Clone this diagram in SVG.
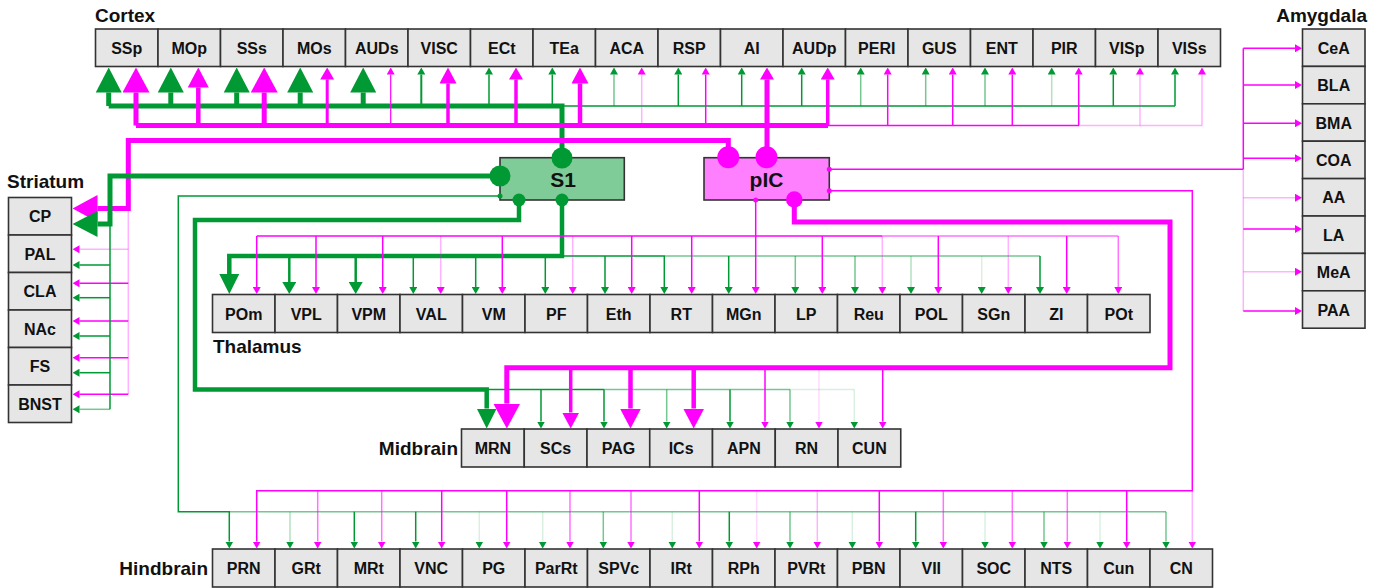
<svg xmlns="http://www.w3.org/2000/svg" width="1382" height="588" viewBox="0 0 1382 588">
<style>
.bx{fill:#e6e6e6;stroke:#333;stroke-width:1.6}
.lb{font-family:"Liberation Sans",Arial,sans-serif;font-weight:bold;font-size:16px;fill:#111;text-anchor:middle}
.gl{font-family:"Liberation Sans",Arial,sans-serif;font-weight:bold;font-size:19px;fill:#111}
.big{font-size:21px}
.g{stroke:#009933;fill:none}
.m{stroke:#ff00ff;fill:none}
.t{stroke-width:1.5}.w2{stroke-width:2.5}.w3{stroke-width:3.5}.w4{stroke-width:4.5}.w5{stroke-width:5}
.f1{stroke-opacity:.55}.f2{stroke-opacity:.3}.f3{stroke-opacity:.15}
.gS{marker-end:url(#gS)}.gM{marker-end:url(#gM)}.gL{marker-end:url(#gL)}.gX{marker-end:url(#gX)}
.mS{marker-end:url(#mS)}.mM{marker-end:url(#mM)}.mL2{marker-end:url(#mL2)}.mL{marker-end:url(#mL)}.mX{marker-end:url(#mX)}
.gd{fill:#009933}.md{fill:#ff00ff}
</style>
<defs>
<marker id="gS" viewBox="0 -4 7 8" refX="0" refY="0" markerWidth="7" markerHeight="8" markerUnits="userSpaceOnUse" orient="auto"><path d="M0,-4L7,0L0,4z" fill="#009933"/></marker>
<marker id="gM" viewBox="0 -7 12 14" refX="0" refY="0" markerWidth="12" markerHeight="14" markerUnits="userSpaceOnUse" orient="auto"><path d="M0,-7L12,0L0,7z" fill="#009933"/></marker>
<marker id="gL" viewBox="0 -10 20 20" refX="0" refY="0" markerWidth="20" markerHeight="20" markerUnits="userSpaceOnUse" orient="auto"><path d="M0,-10L20,0L0,10z" fill="#009933"/></marker>
<marker id="gX" viewBox="0 -13 25 26" refX="0" refY="0" markerWidth="25" markerHeight="26" markerUnits="userSpaceOnUse" orient="auto"><path d="M0,-13L25,0L0,13z" fill="#009933"/></marker>
<marker id="mS" viewBox="0 -4 7 8" refX="0" refY="0" markerWidth="7" markerHeight="8" markerUnits="userSpaceOnUse" orient="auto"><path d="M0,-4L7,0L0,4z" fill="#ff00ff"/></marker>
<marker id="mM" viewBox="0 -7 12 14" refX="0" refY="0" markerWidth="12" markerHeight="14" markerUnits="userSpaceOnUse" orient="auto"><path d="M0,-7L12,0L0,7z" fill="#ff00ff"/></marker>
<marker id="mL2" viewBox="0 -8.5 16 17" refX="0" refY="0" markerWidth="16" markerHeight="17" markerUnits="userSpaceOnUse" orient="auto"><path d="M0,-8.5L16,0L0,8.5z" fill="#ff00ff"/></marker>
<marker id="mL" viewBox="0 -10.5 20 21" refX="0" refY="0" markerWidth="20" markerHeight="21" markerUnits="userSpaceOnUse" orient="auto"><path d="M0,-10.5L20,0L0,10.5z" fill="#ff00ff"/></marker>
<marker id="mX" viewBox="0 -13.5 25 27" refX="0" refY="0" markerWidth="25" markerHeight="27" markerUnits="userSpaceOnUse" orient="auto"><path d="M0,-13.5L25,0L0,13.5z" fill="#ff00ff"/></marker>
</defs>
<rect width="1382" height="588" fill="#fff"/>

<g id="labels">
<text class="gl" x="95" y="22">Cortex</text>
<text class="gl" x="1367" y="22" text-anchor="end">Amygdala</text>
<text class="gl" x="7" y="188">Striatum</text>
<text class="gl" x="213" y="353">Thalamus</text>
<text class="gl" x="458" y="455" text-anchor="end">Midbrain</text>
<text class="gl" x="208" y="575" text-anchor="end">Hindbrain</text>
</g>

<g id="cortex">
<g id="n-SSp"><rect class="bx" x="95.5" y="29" width="62.5" height="37.5"/><text class="lb" x="126.75" y="53.5">SSp</text></g>
<g id="n-MOp"><rect class="bx" x="158" y="29" width="62.5" height="37.5"/><text class="lb" x="189.25" y="53.5">MOp</text></g>
<g id="n-SSs"><rect class="bx" x="220.5" y="29" width="62.5" height="37.5"/><text class="lb" x="251.75" y="53.5">SSs</text></g>
<g id="n-MOs"><rect class="bx" x="283" y="29" width="62.5" height="37.5"/><text class="lb" x="314.25" y="53.5">MOs</text></g>
<g id="n-AUDs"><rect class="bx" x="345.5" y="29" width="62.5" height="37.5"/><text class="lb" x="376.75" y="53.5">AUDs</text></g>
<g id="n-VISC"><rect class="bx" x="408" y="29" width="62.5" height="37.5"/><text class="lb" x="439.25" y="53.5">VISC</text></g>
<g id="n-ECt"><rect class="bx" x="470.5" y="29" width="62.5" height="37.5"/><text class="lb" x="501.75" y="53.5">ECt</text></g>
<g id="n-TEa"><rect class="bx" x="533" y="29" width="62.5" height="37.5"/><text class="lb" x="564.25" y="53.5">TEa</text></g>
<g id="n-ACA"><rect class="bx" x="595.5" y="29" width="62.5" height="37.5"/><text class="lb" x="626.75" y="53.5">ACA</text></g>
<g id="n-RSP"><rect class="bx" x="658" y="29" width="62.5" height="37.5"/><text class="lb" x="689.25" y="53.5">RSP</text></g>
<g id="n-AI"><rect class="bx" x="720.5" y="29" width="62.5" height="37.5"/><text class="lb" x="751.75" y="53.5">AI</text></g>
<g id="n-AUDp"><rect class="bx" x="783" y="29" width="62.5" height="37.5"/><text class="lb" x="814.25" y="53.5">AUDp</text></g>
<g id="n-PERI"><rect class="bx" x="845.5" y="29" width="62.5" height="37.5"/><text class="lb" x="876.75" y="53.5">PERI</text></g>
<g id="n-GUS"><rect class="bx" x="908" y="29" width="62.5" height="37.5"/><text class="lb" x="939.25" y="53.5">GUS</text></g>
<g id="n-ENT"><rect class="bx" x="970.5" y="29" width="62.5" height="37.5"/><text class="lb" x="1001.75" y="53.5">ENT</text></g>
<g id="n-PIR"><rect class="bx" x="1033" y="29" width="62.5" height="37.5"/><text class="lb" x="1064.25" y="53.5">PIR</text></g>
<g id="n-VISp"><rect class="bx" x="1095.5" y="29" width="62.5" height="37.5"/><text class="lb" x="1126.75" y="53.5">VISp</text></g>
<g id="n-VISs"><rect class="bx" x="1158" y="29" width="62.5" height="37.5"/><text class="lb" x="1189.25" y="53.5">VISs</text></g>
</g>

<g id="amygdala">
<g id="n-CeA"><rect class="bx" x="1302.5" y="29" width="62.5" height="37.4"/><text class="lb" x="1333.75" y="53.7">CeA</text></g>
<g id="n-BLA"><rect class="bx" x="1302.5" y="66.4" width="62.5" height="37.4"/><text class="lb" x="1333.75" y="91.1">BLA</text></g>
<g id="n-BMA"><rect class="bx" x="1302.5" y="103.8" width="62.5" height="37.4"/><text class="lb" x="1333.75" y="128.5">BMA</text></g>
<g id="n-COA"><rect class="bx" x="1302.5" y="141.2" width="62.5" height="37.4"/><text class="lb" x="1333.75" y="165.9">COA</text></g>
<g id="n-AA"><rect class="bx" x="1302.5" y="178.6" width="62.5" height="37.4"/><text class="lb" x="1333.75" y="203.3">AA</text></g>
<g id="n-LA"><rect class="bx" x="1302.5" y="216" width="62.5" height="37.4"/><text class="lb" x="1333.75" y="240.7">LA</text></g>
<g id="n-MeA"><rect class="bx" x="1302.5" y="253.4" width="62.5" height="37.4"/><text class="lb" x="1333.75" y="278.1">MeA</text></g>
<g id="n-PAA"><rect class="bx" x="1302.5" y="290.8" width="62.5" height="37.4"/><text class="lb" x="1333.75" y="315.5">PAA</text></g>
</g>

<g id="striatum">
<g id="n-CP"><rect class="bx" x="8.5" y="197.5" width="63" height="37.5"/><text class="lb" x="40" y="222">CP</text></g>
<g id="n-PAL"><rect class="bx" x="8.5" y="235" width="63" height="37.5"/><text class="lb" x="40" y="259.5">PAL</text></g>
<g id="n-CLA"><rect class="bx" x="8.5" y="272.5" width="63" height="37.5"/><text class="lb" x="40" y="297">CLA</text></g>
<g id="n-NAc"><rect class="bx" x="8.5" y="310" width="63" height="37.5"/><text class="lb" x="40" y="334.5">NAc</text></g>
<g id="n-FS"><rect class="bx" x="8.5" y="347.5" width="63" height="37.5"/><text class="lb" x="40" y="372">FS</text></g>
<g id="n-BNST"><rect class="bx" x="8.5" y="385" width="63" height="37.5"/><text class="lb" x="40" y="409.5">BNST</text></g>
</g>

<g id="thalamus">
<g id="n-POm"><rect class="bx" x="212.5" y="294.5" width="62.5" height="38"/><text class="lb" x="243.75" y="319.5">POm</text></g>
<g id="n-VPL"><rect class="bx" x="275" y="294.5" width="62.5" height="38"/><text class="lb" x="306.25" y="319.5">VPL</text></g>
<g id="n-VPM"><rect class="bx" x="337.5" y="294.5" width="62.5" height="38"/><text class="lb" x="368.75" y="319.5">VPM</text></g>
<g id="n-VAL"><rect class="bx" x="400" y="294.5" width="62.5" height="38"/><text class="lb" x="431.25" y="319.5">VAL</text></g>
<g id="n-VM"><rect class="bx" x="462.5" y="294.5" width="62.5" height="38"/><text class="lb" x="493.75" y="319.5">VM</text></g>
<g id="n-PF"><rect class="bx" x="525" y="294.5" width="62.5" height="38"/><text class="lb" x="556.25" y="319.5">PF</text></g>
<g id="n-Eth"><rect class="bx" x="587.5" y="294.5" width="62.5" height="38"/><text class="lb" x="618.75" y="319.5">Eth</text></g>
<g id="n-RT"><rect class="bx" x="650" y="294.5" width="62.5" height="38"/><text class="lb" x="681.25" y="319.5">RT</text></g>
<g id="n-MGn"><rect class="bx" x="712.5" y="294.5" width="62.5" height="38"/><text class="lb" x="743.75" y="319.5">MGn</text></g>
<g id="n-LP"><rect class="bx" x="775" y="294.5" width="62.5" height="38"/><text class="lb" x="806.25" y="319.5">LP</text></g>
<g id="n-Reu"><rect class="bx" x="837.5" y="294.5" width="62.5" height="38"/><text class="lb" x="868.75" y="319.5">Reu</text></g>
<g id="n-POL"><rect class="bx" x="900" y="294.5" width="62.5" height="38"/><text class="lb" x="931.25" y="319.5">POL</text></g>
<g id="n-SGn"><rect class="bx" x="962.5" y="294.5" width="62.5" height="38"/><text class="lb" x="993.75" y="319.5">SGn</text></g>
<g id="n-ZI"><rect class="bx" x="1025" y="294.5" width="62.5" height="38"/><text class="lb" x="1056.25" y="319.5">ZI</text></g>
<g id="n-POt"><rect class="bx" x="1087.5" y="294.5" width="62.5" height="38"/><text class="lb" x="1118.75" y="319.5">POt</text></g>
</g>

<g id="midbrain">
<g id="n-MRN"><rect class="bx" x="461.5" y="429" width="62.75" height="38"/><text class="lb" x="492.9" y="454">MRN</text></g>
<g id="n-SCs"><rect class="bx" x="524.25" y="429" width="62.75" height="38"/><text class="lb" x="555.6" y="454">SCs</text></g>
<g id="n-PAG"><rect class="bx" x="587" y="429" width="62.75" height="38"/><text class="lb" x="618.4" y="454">PAG</text></g>
<g id="n-ICs"><rect class="bx" x="649.75" y="429" width="62.75" height="38"/><text class="lb" x="681.1" y="454">ICs</text></g>
<g id="n-APN"><rect class="bx" x="712.5" y="429" width="62.75" height="38"/><text class="lb" x="743.9" y="454">APN</text></g>
<g id="n-RN"><rect class="bx" x="775.25" y="429" width="62.75" height="38"/><text class="lb" x="806.6" y="454">RN</text></g>
<g id="n-CUN"><rect class="bx" x="838" y="429" width="62.75" height="38"/><text class="lb" x="869.4" y="454">CUN</text></g>
</g>

<g id="hindbrain">
<g id="n-PRN"><rect class="bx" x="212.5" y="549" width="62.5" height="38"/><text class="lb" x="243.75" y="574">PRN</text></g>
<g id="n-GRt"><rect class="bx" x="275" y="549" width="62.5" height="38"/><text class="lb" x="306.25" y="574">GRt</text></g>
<g id="n-MRt"><rect class="bx" x="337.5" y="549" width="62.5" height="38"/><text class="lb" x="368.75" y="574">MRt</text></g>
<g id="n-VNC"><rect class="bx" x="400" y="549" width="62.5" height="38"/><text class="lb" x="431.25" y="574">VNC</text></g>
<g id="n-PG"><rect class="bx" x="462.5" y="549" width="62.5" height="38"/><text class="lb" x="493.75" y="574">PG</text></g>
<g id="n-ParRt"><rect class="bx" x="525" y="549" width="62.5" height="38"/><text class="lb" x="556.25" y="574">ParRt</text></g>
<g id="n-SPVc"><rect class="bx" x="587.5" y="549" width="62.5" height="38"/><text class="lb" x="618.75" y="574">SPVc</text></g>
<g id="n-IRt"><rect class="bx" x="650" y="549" width="62.5" height="38"/><text class="lb" x="681.25" y="574">IRt</text></g>
<g id="n-RPh"><rect class="bx" x="712.5" y="549" width="62.5" height="38"/><text class="lb" x="743.75" y="574">RPh</text></g>
<g id="n-PVRt"><rect class="bx" x="775" y="549" width="62.5" height="38"/><text class="lb" x="806.25" y="574">PVRt</text></g>
<g id="n-PBN"><rect class="bx" x="837.5" y="549" width="62.5" height="38"/><text class="lb" x="868.75" y="574">PBN</text></g>
<g id="n-VII"><rect class="bx" x="900" y="549" width="62.5" height="38"/><text class="lb" x="931.25" y="574">VII</text></g>
<g id="n-SOC"><rect class="bx" x="962.5" y="549" width="62.5" height="38"/><text class="lb" x="993.75" y="574">SOC</text></g>
<g id="n-NTS"><rect class="bx" x="1025" y="549" width="62.5" height="38"/><text class="lb" x="1056.25" y="574">NTS</text></g>
<g id="n-Cun"><rect class="bx" x="1087.5" y="549" width="62.5" height="38"/><text class="lb" x="1118.75" y="574">Cun</text></g>
<g id="n-CN"><rect class="bx" x="1150" y="549" width="62.5" height="38"/><text class="lb" x="1181.25" y="574">CN</text></g>
</g>

<g id="n-S1"><rect x="500" y="157.7" width="124.3" height="42.3" fill="#80cc99" stroke="#333" stroke-width="1.6"/><text class="lb big" x="563" y="186.5">S1</text></g>
<g id="n-pIC"><rect x="704" y="157.7" width="125.3" height="42.3" fill="#ff80ff" stroke="#333" stroke-width="1.6"/><text class="lb big" x="766.5" y="186.5">pIC</text></g>

<g id="connectors">
<!-- S1 -> cortex (green) -->
<path class="g w5" d="M562,158V106H108.7"/>
<path class="g t" d="M562,106H1175"/>
<path class="g w5 gX" d="M108.7,106V92.5"/>
<path class="g w5 gX" d="M170.8,106V92.5"/>
<path class="g w5 gX" d="M236.7,106V92.5"/>
<path class="g w5 gX" d="M300.2,106V92.5"/>
<path class="g w5 gX" d="M363.2,106V92.5"/>
<path class="g t gS" d="M421.3,106V74.5" style="stroke-width:2"/>
<path class="g t gS" d="M489,106V74.5"/>
<path class="g t gS" d="M552.3,106V74.5"/>
<path class="g t gS f1" d="M614,106V74.5"/>
<path class="g t gS" d="M678.3,106V74.5"/>
<path class="g t gS" d="M741.7,106V74.5"/>
<path class="g t gS" d="M801.7,106V74.5"/>
<path class="g t gS f1" d="M860.7,106V74.5"/>
<path class="g t gS f1" d="M925.7,106V74.5"/>
<path class="g t gS f1" d="M985,106V74.5"/>
<path class="g t gS f2" d="M1051.7,106V74.5"/>
<path class="g t gS" d="M1113.3,106V74.5"/>
<path class="g t gS" d="M1175,106V74.5"/>

<!-- pIC -> cortex (magenta) -->
<path class="m w5" d="M136,125.5H828"/>
<path class="m t" d="M828,125.5H1079"/>
<path class="m t f2" d="M1079,125.5H1202"/>
<path class="m w5 mX" d="M136,125.5V92.5"/>
<path class="m w4 mL" d="M198.3,125.5V87.5"/>
<path class="m w5 mX" d="M264.2,125.5V92.5"/>
<path class="m mM" d="M327.2,125.5V79.5" style="stroke-width:3"/>
<path class="m mS" d="M390.7,125.5V74.5" style="stroke-width:1.2"/>
<path class="m w3 mL2" d="M448,125.5V83.5"/>
<path class="m w3 mM" d="M516,125.5V79.5"/>
<path class="m w4 mL2" d="M580,125.5V83.5"/>
<path class="m t mS f2" d="M641.7,125.5V74.5"/>
<path class="m t mS" d="M705.7,125.5V74.5"/>
<path class="m w5 mM" d="M767,158V79.5"/>
<path class="m w3 mM" d="M827.7,125.5V79.5"/>
<path class="m t mS" d="M887.7,125.5V74.5"/>
<path class="m t mS" d="M952.7,125.5V74.5"/>
<path class="m t mS" d="M1012.3,125.5V74.5"/>
<path class="m t mS" d="M1078.7,125.5V74.5"/>
<path class="m t mS f2" d="M1140,125.5V74.5"/>
<path class="m t mS f2" d="M1202,125.5V74.5"/>

<!-- pIC -> striatum (magenta) -->
<path class="m w5 mX" d="M728.3,157V140.5H128.3V208.5H97.5"/>
<path class="m t f2" d="M128.3,208.5V394.3"/>
<path class="m t mS f2" d="M128.3,249.3H79.5"/>
<path class="m t mS" d="M128.3,283.3H79.5"/>
<path class="m t mS" d="M128.3,321H79.5"/>
<path class="m t mS" d="M128.3,357.7H79.5"/>
<path class="m t mS" d="M128.3,394.3H79.5"/>

<!-- S1 -> striatum (green) -->
<path class="g w5 gX" d="M500,176H110V224H97.5"/>
<path class="g t" d="M110,224V409.3"/>
<path class="g t gS" d="M110,265H79.5"/>
<path class="g t gS" d="M110,297.7H79.5"/>
<path class="g t gS" d="M110,336H79.5"/>
<path class="g t gS" d="M110,372.7H79.5"/>
<path class="g t gS f1" d="M110,409.3H79.5"/>

<!-- S1 -> thalamus (green) -->
<path class="g w4 gL" d="M562,200V256H229.3V274"/>
<path class="g t" d="M562,256H665"/>
<path class="g t f1" d="M665,256H1040"/>
<path class="g w2 gM" d="M289.3,256V282"/>
<path class="g w2 gM" d="M355.7,256V282"/>
<path class="g t gS" d="M413.3,256V287"/>
<path class="g t gS" d="M475.7,256V287"/>
<path class="g t gS" d="M545.3,256V287"/>
<path class="g t gS" d="M605,256V287"/>
<path class="g t gS" d="M664.3,256V287"/>
<path class="g t gS" d="M728.7,256V287"/>
<path class="g t gS f1" d="M795.3,256V287"/>
<path class="g t gS f1" d="M855,256V287"/>
<path class="g t gS f2" d="M911,256V287"/>
<path class="g t gS f3" d="M981.7,256V287"/>
<path class="g t gS" d="M1040,256V287"/>

<!-- pIC -> thalamus (magenta) -->
<path class="m t mS" d="M755.7,200V287"/>
<path class="m t" d="M256.7,236H882"/>
<path class="m t f1" d="M882,236H1118.3"/>
<path class="m t mS" d="M256.7,236V287"/>
<path class="m t mS" d="M316,236V287"/>
<path class="m t mS" d="M382.7,236V287"/>
<path class="m t mS f2" d="M440.7,236V287"/>
<path class="m t mS" d="M502.3,236V287"/>
<path class="m t mS f2" d="M572.7,236V287"/>
<path class="m t mS" d="M631.7,236V287"/>
<path class="m t mS" d="M691.7,236V287"/>
<path class="m t mS" d="M822.3,236V287"/>
<path class="m t mS f2" d="M882.3,236V287"/>
<path class="m t mS" d="M938.3,236V287"/>
<path class="m t mS f2" d="M1008.3,236V287"/>
<path class="m t mS" d="M1066.7,236V287"/>
<path class="m t mS f1" d="M1118.3,236V287"/>

<!-- S1 -> midbrain (green) -->
<path class="g w4 gL" d="M519,200V220H195V389.5H486.7V408.5"/>
<path class="g t" d="M486.7,389.5H604"/>
<path class="g t f1" d="M604,389.5H790"/>
<path class="g t f3" d="M790,389.5H854.3"/>
<path class="g t gS" d="M541,389.5V421.5"/>
<path class="g t gS" d="M604,389.5V421.5"/>
<path class="g t gS f1" d="M666.7,389.5V421.5"/>
<path class="g t gS" d="M730,389.5V421.5"/>
<path class="g t gS f1" d="M790,389.5V421.5"/>
<path class="g t gS f3" d="M854.3,389.5V421.5"/>

<!-- pIC -> midbrain (magenta) -->
<path class="m w5 mX" d="M794.3,200V222H1170V367.7H506.8V403.5"/>
<path class="m w3 mL2" d="M570.7,367.7V412.5"/>
<path class="m w4 mL" d="M630.5,367.7V408.5"/>
<path class="m w4 mL" d="M693.7,367.7V408.5"/>
<path class="m t mS" d="M765,367.7V421.5"/>
<path class="m t mS f3" d="M819,367.7V421.5"/>
<path class="m t mS" d="M882.7,367.7V421.5"/>

<!-- pIC -> amygdala (magenta) -->
<path class="m t" d="M829.3,169.3H1243.3"/>
<path class="m t" d="M1243.3,48.3V169.3"/>
<path class="m t f2" d="M1243.3,169.3V311"/>
<path class="m t mS" d="M1243.3,48.3H1295"/>
<path class="m t mS" d="M1243.3,85H1295"/>
<path class="m t mS" d="M1243.3,123.3H1295"/>
<path class="m t mS" d="M1243.3,158.3H1295"/>
<path class="m t mS f2" d="M1243.3,197.7H1295"/>
<path class="m t mS" d="M1243.3,229H1295"/>
<path class="m t mS f2" d="M1243.3,271.7H1295"/>
<path class="m t mS" d="M1243.3,311H1295"/>

<!-- S1 -> hindbrain (green) -->
<path class="g t gS" d="M500,196H178.3V511.7H229.3V541.5"/>
<path class="g t f1" d="M229.3,511.7H1166"/>
<path class="g t gS f2" d="M290,511.7V541.5"/>
<path class="g t gS" d="M354.3,511.7V541.5"/>
<path class="g t gS" d="M415.7,511.7V541.5"/>
<path class="g t gS f3" d="M479.3,511.7V541.5"/>
<path class="g t gS f3" d="M542.7,511.7V541.5"/>
<path class="g t gS f1" d="M603.3,511.7V541.5"/>
<path class="g t gS f3" d="M672.3,511.7V541.5"/>
<path class="g t gS" d="M729.3,511.7V541.5"/>
<path class="g t gS f1" d="M790,511.7V541.5"/>
<path class="g t gS f3" d="M852.3,511.7V541.5"/>
<path class="g t gS" d="M915.7,511.7V541.5"/>
<path class="g t gS f3" d="M985,511.7V541.5"/>
<path class="g t gS f1" d="M1044,511.7V541.5"/>
<path class="g t gS f3" d="M1100,511.7V541.5"/>
<path class="g t gS f1" d="M1166,511.7V541.5"/>

<!-- pIC -> hindbrain (magenta) -->
<path class="m t mS" d="M829.3,190.7H1192.3V490.7H256.7V541.5"/>
<path class="m t mS f1" d="M317.7,490.7V541.5"/>
<path class="m t mS f1" d="M381.7,490.7V541.5"/>
<path class="m t mS" d="M441.7,490.7V541.5"/>
<path class="m t mS" d="M506.7,490.7V541.5"/>
<path class="m t mS f1" d="M570,490.7V541.5"/>
<path class="m t mS f1" d="M631,490.7V541.5"/>
<path class="m t mS" d="M699.3,490.7V541.5"/>
<path class="m t mS f3" d="M756.7,490.7V541.5"/>
<path class="m t mS f2" d="M817.3,490.7V541.5"/>
<path class="m t mS" d="M879.3,490.7V541.5"/>
<path class="m t mS f1" d="M943.3,490.7V541.5"/>
<path class="m t mS f1" d="M1012.3,490.7V541.5"/>
<path class="m t mS f1" d="M1067.3,490.7V541.5"/>
<path class="m t mS" d="M1126.7,490.7V541.5"/>
<path class="m t mS f2" d="M1192.3,490.7V541.5"/>

<!-- terminal dots -->
<circle class="gd" cx="562" cy="158" r="10.5"/>
<circle class="gd" cx="500" cy="176" r="10.5"/>
<circle class="gd" cx="519" cy="200" r="6.5"/>
<circle class="gd" cx="562" cy="200" r="6.5"/>
<circle class="gd" cx="500" cy="196" r="2.5"/>
<circle class="md" cx="728.3" cy="157.3" r="11"/>
<circle class="md" cx="766.5" cy="157.3" r="11"/>
<circle class="md" cx="794.3" cy="199.5" r="8.3"/>
<circle class="md" cx="829.3" cy="169.3" r="2.5"/>
<circle class="md" cx="829.3" cy="190.7" r="2.5"/>
<circle class="md" cx="755.7" cy="200" r="2.5"/>
</g>
</svg>
